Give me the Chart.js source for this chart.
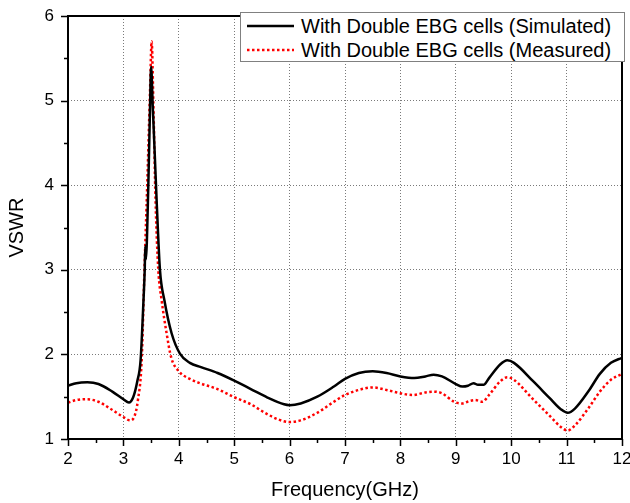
<!DOCTYPE html>
<html>
<head>
<meta charset="utf-8">
<script src="https://cdn.jsdelivr.net/npm/chart.js@4.4.1/dist/chart.umd.min.js"></script>
<style>
  body { margin: 0; background: #fff; }
  #wrap { position: relative; width: 630px; height: 503px; }
  #legend {
    position: absolute; left: 240px; top: 12px; width: 385px; height: 50px;
    box-sizing: border-box; border: 1.5px solid #808080; background: #fff;
    font: 20px "Liberation Sans", Arial, sans-serif; color: #000; padding-top: 1px;
  }
  .row { height: 24px; display: flex; align-items: center; white-space: nowrap; }
  .row svg { margin-left: 6px; margin-right: 7px; }
</style>
</head>
<body>
<div id="wrap">
  <canvas id="chart" width="630" height="503"></canvas>
  <div id="legend"></div>
</div>
<script>
const seriesNames = ['With Double EBG cells (Simulated)', 'With Double EBG cells (Measured)'];

const freqSim = [2.0, 2.15, 2.35, 2.55, 2.8, 3.0, 3.1, 3.18, 3.25, 3.31, 3.36, 3.385, 3.395, 3.405,
  3.45, 3.48, 3.5, 3.53, 3.57, 3.6, 3.66, 3.74, 3.87, 4.02, 4.2, 4.4, 4.7, 5.0, 5.3, 5.6, 5.9, 6.0, 6.2,
  6.5, 6.8, 7.0, 7.25, 7.5, 7.75, 8.0, 8.25, 8.45, 8.6, 8.75, 9.0, 9.12, 9.22, 9.32, 9.4, 9.5, 9.6,
  9.8, 9.93, 10.05, 10.4, 10.7, 10.9, 11.02, 11.15, 11.4, 11.6, 11.8, 12.0];
const vswrSim = [1.63, 1.66, 1.67, 1.65, 1.56, 1.47, 1.43, 1.5, 1.68, 1.93, 2.6, 3.0, 3.28, 3.12,
  4.0, 4.9, 5.4, 4.93, 4.3, 3.82, 3.0, 2.64, 2.25, 2.01, 1.9, 1.85, 1.78, 1.69, 1.59, 1.49, 1.41, 1.4, 1.42,
  1.5, 1.62, 1.71, 1.78, 1.8, 1.78, 1.74, 1.72, 1.74, 1.76, 1.74, 1.65, 1.62, 1.63, 1.66, 1.64, 1.64, 1.72,
  1.88, 1.93, 1.9, 1.68, 1.48, 1.35, 1.31, 1.36, 1.57, 1.77, 1.9, 1.96];

const freqMeas = [2.0, 2.15, 2.34, 2.55, 2.76, 3.0, 3.12, 3.2, 3.26, 3.33, 3.38, 3.43, 3.48, 3.51,
  3.54, 3.58, 3.63, 3.69, 3.78, 3.86, 4.0, 4.2, 4.38, 4.7, 4.98, 5.3, 5.58, 5.8, 6.0, 6.2, 6.5,
  6.8, 7.0, 7.25, 7.5, 7.75, 8.0, 8.22, 8.45, 8.6, 8.75, 8.97, 9.12, 9.25, 9.35, 9.48, 9.6, 9.8, 9.93,
  10.05, 10.38, 10.7, 10.9, 11.02, 11.15, 11.4, 11.6, 11.8, 12.0];
const vswrMeas = [1.43, 1.46, 1.47, 1.44, 1.36, 1.26, 1.22, 1.27, 1.45, 1.93, 3.0, 4.0, 5.1, 5.7,
  5.0, 3.82, 3.0, 2.64, 2.25, 1.97, 1.8, 1.71, 1.66, 1.59, 1.5, 1.41, 1.3, 1.23, 1.2, 1.22, 1.31,
  1.44, 1.52, 1.58, 1.61, 1.58, 1.54, 1.52, 1.55, 1.56, 1.54, 1.44, 1.42, 1.45, 1.46, 1.44, 1.52, 1.68, 1.73,
  1.7, 1.48, 1.27, 1.14, 1.1, 1.16, 1.37, 1.56, 1.7, 1.77];

const xRange = [2, 12];
const yRange = [1, 6];

const toPoints = (xs, ys) => xs.map((x, i) => ({ x: x, y: ys[i] }));
const fontFamily = '"Liberation Sans", Arial, sans-serif';
Chart.defaults.font.family = fontFamily;
Chart.defaults.color = '#000';

// frame + outward tick marks (major and half-step minor)
const frame = {
  id: 'frame',
  afterDraw(chart) {
    const { ctx, chartArea: a, scales: { x, y } } = chart;
    ctx.save();
    ctx.strokeStyle = '#000';
    ctx.lineWidth = 1.5;
    ctx.beginPath();
    for (let v = xRange[0]; v <= xRange[1]; v += 0.5) {
      const px = Math.round(x.getPixelForValue(v)) + 0.5;
      ctx.moveTo(px, a.bottom);
      ctx.lineTo(px, a.bottom + (v % 1 === 0 ? 7 : 4));
    }
    for (let v = yRange[0]; v <= yRange[1]; v += 0.5) {
      const py = Math.round(y.getPixelForValue(v)) + 0.5;
      ctx.moveTo(a.left, py);
      ctx.lineTo(a.left - (v % 1 === 0 ? 7 : 4), py);
    }
    ctx.stroke();
    ctx.lineWidth = 2;
    ctx.strokeRect(a.left, a.top, a.right - a.left, a.bottom - a.top);
    ctx.restore();
  }
};

const chart = new Chart(document.getElementById('chart'), {
  type: 'line',
  data: {
    datasets: [{
      label: seriesNames[0],
      data: toPoints(freqSim, vswrSim),
      borderColor: '#000',
      borderWidth: 2.5,
      pointRadius: 0,
      cubicInterpolationMode: 'monotone'
    }, {
      label: seriesNames[1],
      data: toPoints(freqMeas, vswrMeas),
      borderColor: '#ff0000',
      borderWidth: 2.5,
      borderDash: [2.5, 2.5],
      pointRadius: 0,
      cubicInterpolationMode: 'monotone'
    }]
  },
  options: {
    responsive: false,
    animation: false,
    devicePixelRatio: 1,
    layout: { padding: { top: 16, right: 8, left: 0, bottom: 0 } },
    plugins: { legend: { display: false }, tooltip: { enabled: false } },
    scales: {
      x: {
        type: 'linear', min: xRange[0], max: xRange[1],
        ticks: { stepSize: 1, padding: 10, font: { size: 17 } },
        grid: { color: '#7a7a7a', lineWidth: 1, drawTicks: false },
        border: { display: false, dash: [1, 2] },
        title: { display: true, text: 'Frequency(GHz)', font: { size: 20 }, padding: { top: 0, bottom: 1 } },
        afterFit(s) { s.height = 64; s.paddingLeft = 0; s.paddingRight = 0; }
      },
      y: {
        type: 'linear', min: yRange[0], max: yRange[1],
        ticks: { stepSize: 1, padding: 14, font: { size: 17 } },
        grid: { color: '#7a7a7a', lineWidth: 1, drawTicks: false },
        border: { display: false, dash: [1, 2] },
        title: { display: true, text: 'VSWR', font: { size: 20 }, padding: { top: 5, bottom: 0 } },
        afterFit(s) { s.width = 68; s.paddingTop = 0; s.paddingBottom = 0; }
      }
    }
  },
  plugins: [frame]
});

// legend box drawn as html over the plot
const legend = document.getElementById('legend');
chart.data.datasets.forEach(ds => {
  const row = document.createElement('div');
  row.className = 'row';
  const dash = ds.borderDash ? ds.borderDash.join(' ') : 'none';
  row.innerHTML = '<svg width="47" height="6"><line x1="0" y1="3" x2="47" y2="3" stroke="' + ds.borderColor +
    '" stroke-width="' + ds.borderWidth + '" stroke-dasharray="' + dash + '"/></svg><span>' + ds.label + '</span>';
  legend.appendChild(row);
});
</script>
</body>
</html>
